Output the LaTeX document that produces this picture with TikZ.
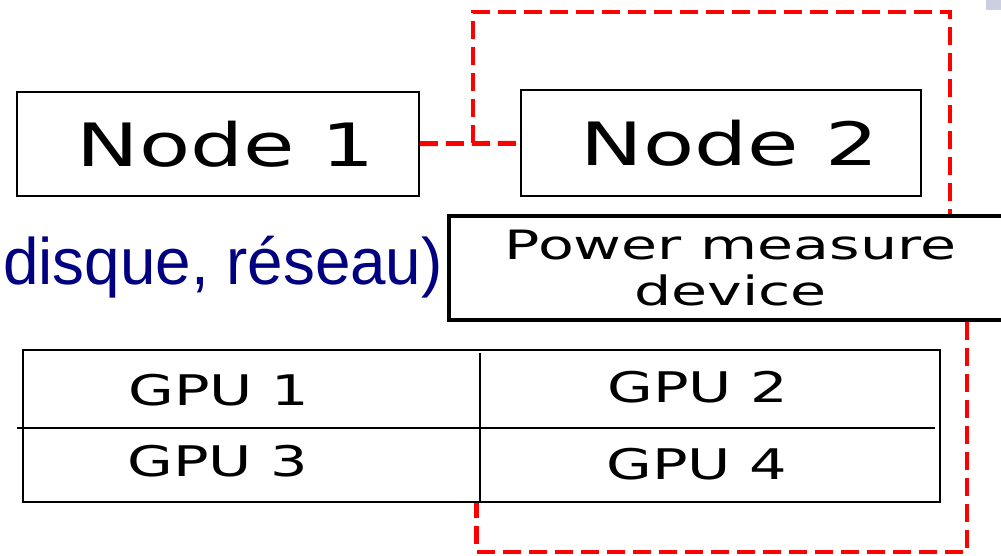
\documentclass[tikz,border=0pt]{standalone}
\usepackage{fontspec}
\usepackage{xcolor}
\usetikzlibrary{positioning,calc}
\newfontfamily\boxfont[FakeStretch=1.4]{DejaVu Sans}
\newfontfamily\gpufont[FakeStretch=1.4]{DejaVu Sans}
\newfontfamily\pmfont[FakeStretch=1.45]{DejaVu Sans}
\newfontfamily\notefont[FakeStretch=0.97]{Liberation Sans}
\definecolor{wirered}{RGB}{255,0,0}
\definecolor{notenavy}{RGB}{0,0,128}
\definecolor{slidegrey}{RGB}{202,208,224}

\begin{document}
\begin{tikzpicture}[
  hostbox/.style={draw, line width=1.1pt, minimum width=8.04cm, minimum height=2.08cm, inner sep=0pt,
    font=\boxfont\fontsize{34}{40}\selectfont},
  meterbox/.style={draw, line width=2.8pt, minimum width=11.26cm, minimum height=2.08cm, inner sep=0pt,
    align=center, font=\pmfont\fontsize{23}{26}\selectfont},
  gpulabel/.style={inner sep=0pt, font=\gpufont\fontsize{24}{28}\selectfont},
  wire/.style={draw=wirered, line width=2.8pt, dash pattern=on 0.36cm off 0.16cm}
]
\useasboundingbox (0,0) rectangle (20.02,11.12);
\fill[slidegrey] (19.72,10.92) rectangle (20.02,11.12);
\node[hostbox] (n1) at (4.36,8.24) {\hspace{0.32cm}Node 1};
\node[hostbox, minimum width=8.0cm, minimum height=2.12cm] (n2) at (14.42,8.26) {\hspace{0.34cm}Node 2};
\node[meterbox] (pm) at (14.61,5.76) {Power measure\\device};
\node[anchor=base west, inner sep=0pt, text=notenavy, font=\notefont\fontsize{37.4}{42}\selectfont] (note) at (0.06,5.42) {disque, réseau)};
% GPU board
\node[draw, line width=1.1pt, minimum width=18.34cm, minimum height=3.04cm, inner sep=0pt] (board) at (9.63,2.6) {};
\coordinate (div) at (9.6,4.06);
\draw[line width=1.1pt] (div) -- (div |- board.south);
\draw[line width=1.1pt] (0.34,2.56) -- (18.7,2.56);
\node[gpulabel] (g1) at (4.38,3.32) {GPU 1};
\node[gpulabel] (g2) at (13.96,3.38) {GPU 2};
\node[gpulabel] (g3) at (4.36,1.90) {GPU 3};
\node[gpulabel] (g4) at (13.94,1.84) {GPU 4};
% measurement loop
\coordinate (tap) at (9.46,8.25);
\coordinate (loopTR) at (19.0,10.88);
\coordinate (loopBR) at (19.34,0.08);
\coordinate (loopBL) at (9.53,0.08);
\draw[wire] (n1) -- (n2);
\draw[wire] (tap) |- (loopTR) -- (pm.north -| loopTR);
\draw[wire] (pm.south -| loopBR) -- (loopBR) -- (loopBL) -- (loopBL |- board.south);
\end{tikzpicture}
\end{document}
